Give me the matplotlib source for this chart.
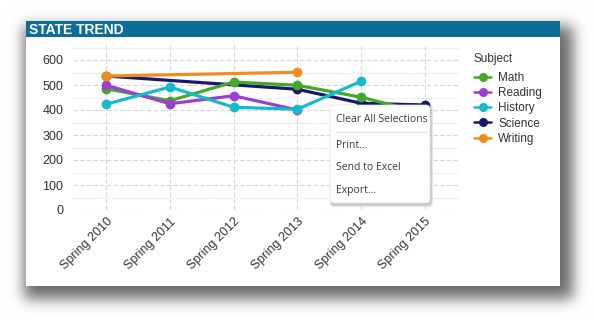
import numpy as np
import matplotlib
matplotlib.use('Agg')
import matplotlib.pyplot as plt
from matplotlib.patches import Rectangle, FancyBboxPatch
from matplotlib.ticker import MultipleLocator

plt.rcParams['font.family'] = ['Liberation Sans', 'DejaVu Sans']

# ---------------- data ----------------
categories = ['Spring 2010', 'Spring 2011', 'Spring 2012',
              'Spring 2013', 'Spring 2014', 'Spring 2015']
series_names = ['Math', 'Reading', 'History', 'Science', 'Writing']
math_scores = [485, 437, 512, 499, 451, 387]
reading_scores = [499, 425, 457, 400, np.nan, np.nan]
history_scores = [423, 492, 411, 403, 515, np.nan]
science_scores = [536, np.nan, np.nan, 483, 427, 420]
writing_scores = [536, np.nan, np.nan, 551, np.nan, np.nan]
y_ticks = [0, 100, 200, 300, 400, 500, 600]
menu_items = ['Clear All Selections', 'Print...', 'Send to Excel', 'Export...']
title_text = 'STATE TREND'
legend_title = 'Subject'

colors = {'Math': '#45a82a', 'Reading': '#9a3fd1', 'History': '#17b9cc',
          'Science': '#18196e', 'Writing': '#f28c1e'}
values = {'Math': math_scores, 'Reading': reading_scores,
          'History': history_scores, 'Science': science_scores,
          'Writing': writing_scores}
zorders = {'Science': 3, 'Math': 4, 'Reading': 5, 'History': 6, 'Writing': 7}

W, H = 594, 323
fig = plt.figure(figsize=(W / 100, H / 100), dpi=100)

# ---------------- background: shadow + card ----------------
bg = fig.add_axes([0, 0, 1, 1], zorder=0)
bg.set_xlim(0, W)
bg.set_ylim(H, 0)
bg.axis('off')

mask = np.zeros((H, W))
mask[26:299, 24:573] = 1.0
def gauss_kernel(sigma):
    r = int(3 * sigma)
    k = np.exp(-0.5 * (np.arange(-r, r + 1) / sigma) ** 2)
    return k / k.sum()
k = gauss_kernel(7)
mask = np.apply_along_axis(lambda v: np.convolve(v, k, mode='same'), 1, mask)
mask = np.apply_along_axis(lambda v: np.convolve(v, k, mode='same'), 0, mask)
img = 1 - 0.58 * mask
bg.imshow(np.dstack([img, img, img]), extent=(0, W, H, 0), aspect='auto',
          interpolation='bilinear', zorder=0)
bg.add_patch(Rectangle((26, 21), 534, 265, facecolor='white', edgecolor='none', zorder=1))
bg.add_patch(Rectangle((26, 21), 534, 16, facecolor='#0d6d97', edgecolor='none', zorder=2))
bg.text(29, 29.5, title_text, color='white', fontsize=10, fontweight='bold',
        va='center', ha='left', zorder=3)

# ---------------- main chart ----------------
left, right = 73 / W, 458 / W
bottom, top = 1 - 210 / H, 1 - 45 / H
ax = fig.add_axes([left, bottom, right - left, top - bottom], zorder=2)
ax.set_facecolor('none')
x = np.arange(len(categories))
for name in series_names:
    y = np.array(values[name], dtype=float)
    ok = ~np.isnan(y)
    ax.plot(x[ok], y[ok], color=colors[name], lw=2.3, marker='o', ms=6,
            label=name, zorder=zorders[name], solid_capstyle='round')

ax.set_xlim(-0.52, 5.52)
ax.set_ylim(0, 660)
ax.set_xticks(x)
ax.set_xticklabels(categories, rotation=45, ha='right', rotation_mode='anchor',
                   fontsize=9, color='#333333')
ax.set_yticks(y_ticks)
ax.yaxis.set_minor_locator(MultipleLocator(50))
ax.tick_params(axis='y', labelsize=9, colors='#333333', length=0, pad=7)
ax.tick_params(axis='x', length=0, pad=4)
ax.tick_params(which='minor', length=0)
for s in ax.spines.values():
    s.set_visible(False)
ax.grid(axis='y', which='major', color='#d6d6d6', ls=(0, (4, 2)), lw=0.8)
ax.grid(axis='y', which='minor', color='#dddddd', ls=(0, (1, 1.5)), lw=0.8)
ax.grid(axis='x', which='major', color='#d6d6d6', ls=(0, (4, 2)), lw=0.8)
ax.set_axisbelow(True)

leg = ax.legend(loc='upper left', bbox_to_anchor=(474 / W, 1 - 53 / H),
                bbox_transform=fig.transFigure, title=legend_title,
                alignment='left', frameon=False, fontsize=8.5, title_fontsize=8.5,
                handlelength=1.45, handletextpad=0.6, labelspacing=0.27,
                borderpad=0, borderaxespad=0)
leg._legend_box.sep = 5
for t in leg.get_texts():
    t.set_color('#333333')
leg.get_title().set_color('#333333')
for h in leg.legend_handles:
    h.set_linewidth(1.8)
    h.set_markersize(5.5)

# ---------------- context menu overlay ----------------
ov = fig.add_axes([0, 0, 1, 1], zorder=5)
ov.set_xlim(0, W)
ov.set_ylim(H, 0)
ov.axis('off')
ov.patch.set_alpha(0)
for i, a in enumerate([0.04, 0.05, 0.06, 0.08]):
    d = 4 - i
    ov.add_patch(FancyBboxPatch((330 + 1 - d * 0.3, 105 + 1 - d * 0.3), 100 + d * 0.9, 99 + d * 0.9,
                                boxstyle='round,pad=0,rounding_size=4',
                                facecolor='black', edgecolor='none', alpha=a, zorder=1))
ov.add_patch(FancyBboxPatch((330, 105), 100, 98, boxstyle='round,pad=0,rounding_size=4',
                            facecolor='white', edgecolor='#e0e0e0', lw=0.5, zorder=2))
ov.plot([336, 426], [132, 132], color='#e3e3e3', lw=0.8, zorder=3)
menu_y = [119, 146, 168, 190]
for txt, yy in zip(menu_items, menu_y):
    ov.text(336, yy, txt, fontsize=7.5, color='#3a3a3a', va='center', ha='left',
            family=['Open Sans', 'DejaVu Sans'], zorder=4)

fig.savefig('out.png', dpi=100)
